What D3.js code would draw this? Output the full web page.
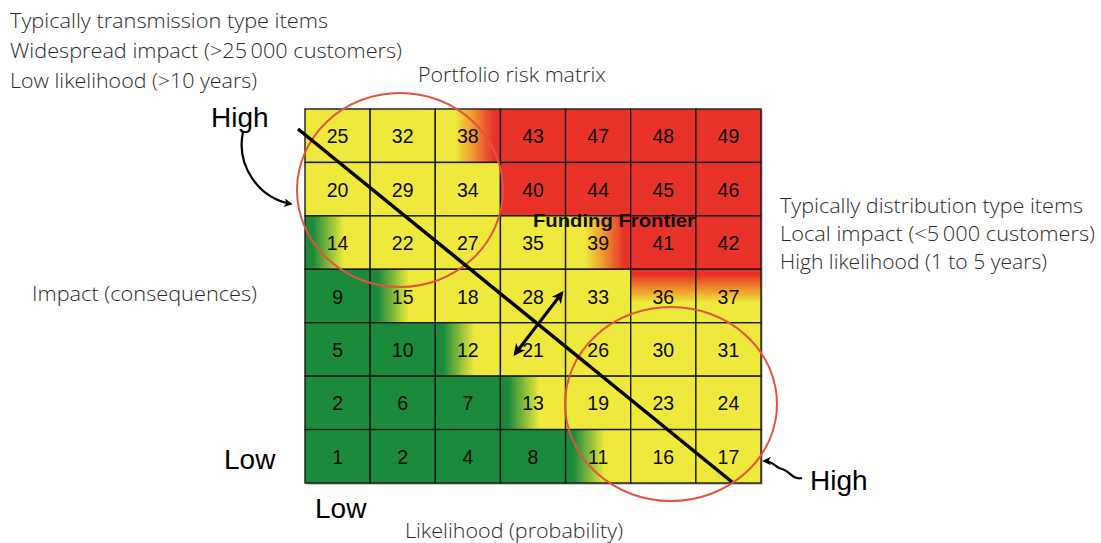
<!DOCTYPE html>
<html><head><meta charset="utf-8">
<script src="https://cdn.jsdelivr.net/npm/d3@7"></script>
<style>body{margin:0;background:#fff}</style>
</head><body>
<svg id="c" width="1101" height="543"></svg>
<script>
// ---- data ----
const likelihoodLevels = [1, 2, 3, 4, 5, 6, 7];
const impactLevels = [7, 6, 5, 4, 3, 2, 1]; // top to bottom
const riskScores = [
  [25, 32, 38, 43, 47, 48, 49],
  [20, 29, 34, 40, 44, 45, 46],
  [14, 22, 27, 35, 39, 41, 42],
  [9, 15, 18, 28, 33, 36, 37],
  [5, 10, 12, 21, 26, 30, 31],
  [2, 6, 7, 13, 19, 23, 24],
  [1, 2, 4, 8, 11, 16, 17]
];
const riskZones = [
  ["med", "med", "med-high", "high", "high", "high", "high"],
  ["med", "med", "med", "high", "high", "high", "high"],
  ["low-med", "med", "med", "med", "med-high", "high", "high"],
  ["low", "low-med", "med", "med", "med", "high-med", "high-med"],
  ["low", "low", "low-med", "med", "med", "med", "med"],
  ["low", "low", "low", "low-med", "med", "med", "med"],
  ["low", "low", "low", "low", "low-med", "med", "med"]
];
const transmissionNotes = ["Typically transmission type items", "Widespread impact (>25\u2009000 customers)", "Low likelihood (>10 years)"];
const distributionNotes = ["Typically distribution type items", "Local impact (<5\u2009000 customers)", "High likelihood (1 to 5 years)"];

// ---- drawing ----
const svg = d3.select("#c");
const GREEN = "#1b8a3b", YELLOW = "#eee93c", RED = "#e8322a";
const x = d3.scaleBand().domain(likelihoodLevels).range([305, 761]);
const y = d3.scaleBand().domain(impactLevels).range([109, 483]);

const defs = svg.append("defs");
function grad(id, x2, y2, stops) {
  const g = defs.append("linearGradient").attr("id", id)
    .attr("x1", 0).attr("y1", 0).attr("x2", x2).attr("y2", y2);
  stops.forEach(s => g.append("stop").attr("offset", s[0]).attr("stop-color", s[1]));
}
grad("g-low-med", 1, 0, [[0, GREEN], [0.12, GREEN], [0.6, YELLOW], [1, YELLOW]]);
grad("g-med-high", 1, 0, [[0, YELLOW], [0.3, YELLOW], [0.55, "#f0a030"], [0.9, RED], [1, RED]]);
grad("g-high-med", 0, 1, [[0, RED], [0.1, RED], [0.35, "#ef8a2e"], [0.62, YELLOW], [1, YELLOW]]);
const fillFor = z => ({ "low": GREEN, "med": YELLOW, "high": RED,
  "low-med": "url(#g-low-med)", "med-high": "url(#g-med-high)", "high-med": "url(#g-high-med)" })[z];

const mk = defs.append("marker").attr("id", "arr").attr("viewBox", "0 0 10 10")
  .attr("refX", 8).attr("refY", 5).attr("markerWidth", 4).attr("markerHeight", 4)
  .attr("orient", "auto-start-reverse").attr("markerUnits", "strokeWidth");
mk.append("path").attr("d", "M0,0 L10,5 L0,10 L3,5 Z").attr("fill", "#000");

const cells = [];
riskScores.forEach((row, r) => row.forEach((v, c) =>
  cells.push({ imp: impactLevels[r], lik: likelihoodLevels[c], v, z: riskZones[r][c] })));

const grid = svg.append("g");
grid.append("rect").attr("x", 306.5).attr("y", 110.5).attr("width", 456).attr("height", 374)
  .attr("fill", "#999");
grid.selectAll("rect.cell").data(cells).join("rect").attr("class", "cell")
  .attr("x", d => x(d.lik)).attr("y", d => y(d.imp))
  .attr("width", x.bandwidth()).attr("height", y.bandwidth())
  .attr("fill", d => fillFor(d.z)).attr("stroke", "#1a1a1a").attr("stroke-width", 1.4);
grid.selectAll("text.num").data(cells).join("text").attr("class", "num")
  .attr("x", d => x(d.lik) + x.bandwidth() / 2)
  .attr("y", d => y(d.imp) + y.bandwidth() / 2 + 7.5)
  .attr("text-anchor", "middle").attr("font-family", "Liberation Sans, Arial, sans-serif")
  .attr("font-size", 19.5).attr("fill", "#0a0a0a").text(d => d.v);

// circles
svg.append("ellipse").attr("cx", 400).attr("cy", 190).attr("rx", 103).attr("ry", 97)
  .attr("fill", "none").attr("stroke", "#e0553d").attr("stroke-width", 2);
svg.append("ellipse").attr("cx", 671).attr("cy", 404).attr("rx", 106).attr("ry", 97)
  .attr("fill", "none").attr("stroke", "#e0553d").attr("stroke-width", 2);

// funding frontier diagonal
svg.append("line").attr("x1", 298).attr("y1", 129).attr("x2", 732).attr("y2", 482)
  .attr("stroke", "#000").attr("stroke-width", 3.5);
// double arrow
svg.append("line").attr("x1", 515).attr("y1", 354).attr("x2", 562).attr("y2", 293)
  .attr("stroke", "#000").attr("stroke-width", 3)
  .attr("marker-start", "url(#arr)").attr("marker-end", "url(#arr)");
svg.append("text").attr("x", 533).attr("y", 227).attr("font-family", "Liberation Sans, Arial, sans-serif")
  .attr("font-weight", "bold").attr("font-size", 18.5).attr("fill", "#111")
  .attr("textLength", 162).attr("lengthAdjust", "spacingAndGlyphs").text("Funding Frontier");

// curved arrows
svg.append("path").attr("d", "M243,132 C236,165 258,198 291,204")
  .attr("fill", "none").attr("stroke", "#000").attr("stroke-width", 2.2).attr("marker-end", "url(#arr)");
svg.append("path").attr("d", "M802,478 C792,480 790,471 782,469 C774,467 774,461 764,461")
  .attr("fill", "none").attr("stroke", "#000").attr("stroke-width", 2.2).attr("marker-end", "url(#arr)");

// High / Low labels
const big = (t, px, py) => svg.append("text").attr("x", px).attr("y", py)
  .attr("font-family", "Liberation Sans, Arial, sans-serif").attr("font-size", 28)
  .attr("fill", "#000").text(t);
big("High", 211, 127);
big("High", 810, 490);
big("Low", 224, 469);
big("Low", 315, 518);

// annotation texts
const note = (t, px, py, w) => svg.append("text").attr("x", px).attr("y", py)
  .attr("font-family", "Open Sans, Liberation Sans, sans-serif").attr("font-weight", 300)
  .attr("font-size", 19.5).attr("fill", "#2a2a2a")
  .attr("textLength", w).attr("lengthAdjust", "spacingAndGlyphs").text(t);
const leftW = [318, 392, 247];
transmissionNotes.forEach((t, i) => note(t, 10, 28 + i * 30, leftW[i]));
const rightW = [303, 315, 267];
distributionNotes.forEach((t, i) => note(t, 780, 213 + i * 28, rightW[i]));
note("Portfolio risk matrix", 418, 82, 188);
note("Impact (consequences)", 32, 301, 225);
note("Likelihood (probability)", 405, 538, 218);
</script>
</body></html>
